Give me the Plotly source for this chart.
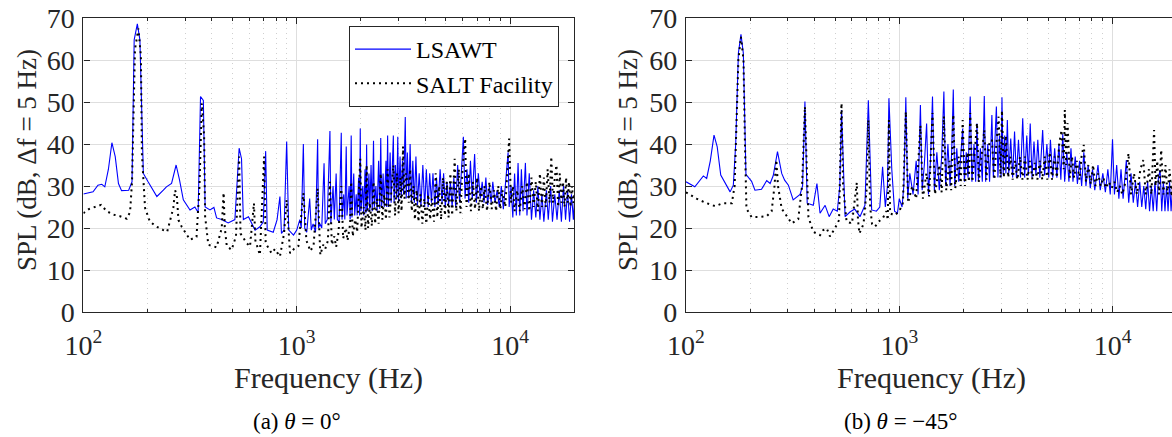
import plotly.graph_objects as go

# ---------------- data ----------------
# Panel (a) theta = 0 deg : LSAWT
a_lsawt_f = [100, 111, 117, 122, 126, 131, 136, 141, 146, 151, 163, 169, 173, 179, 184, 191, 201, 221, 237, 245,
             259, 272, 282, 294, 316, 333, 345, 354, 365, 372, 392, 409, 421, 445, 477, 513, 537, 551, 562, 594,
             638, 672, 697, 715, 727, 776, 809, 834, 848, 872, 897, 917, 966, 1000,
             1034, 1050, 1074, 1090, 1114, 1150, 1170, 1193, 1225, 1253, 1265, 1284, 1310, 1343, 1360, 1390, 1431,
             1445, 1480, 1500, 1530, 1550, 1580, 1617, 1630, 1660, 1680, 1706, 1720, 1760, 1780, 1800, 1815, 1850,
             1870, 1900, 1920, 1950, 1970, 1985, 2000, 2040, 2060, 2090, 2110, 2126, 2140, 2180, 2200, 2230, 2260,
             2290, 2310, 2350, 2380, 2420, 2450, 2476, 2500, 2540, 2570, 2620, 2640, 2667, 2690, 2740, 2770, 2800,
             2837, 2860, 2900, 2940, 2976, 3000, 3050, 3090, 3130, 3170, 3226, 3260, 3300, 3350, 3400, 3450, 3500,
             3560, 3620, 3680, 3750, 3820, 3900, 3980, 4050, 4130, 4200, 4280, 4350, 4440, 4520, 4600, 4700, 4800,
             4880, 4970, 5060, 5150, 5250, 5350, 5450, 5560, 5680, 5800, 5900, 6040, 6150, 6280, 6400, 6520, 6650,
             6820, 6950, 7100, 7250, 7400, 7550, 7700, 7850, 8000, 8150, 8300, 8500, 8700, 8900, 9100, 9300, 9500,
             9790, 9900, 10100, 10300, 10500, 10700, 10900, 11100, 11300, 11500, 11800, 12000, 12300, 12600, 12900,
             13200, 13500, 13800, 14100, 14400, 14800, 15100, 15500, 15800, 16200, 16600, 17000, 17400, 17800,
             18200, 18600, 19000, 19400, 19800, 20000]
a_lsawt_spl = [28.1, 28.6, 30.2, 30.4, 29.8, 34, 40.3, 37, 30.6, 28.9, 29, 31, 64.8, 68.6, 64.8, 33, 31, 27.5, 29, 29.8,
               30.6, 35, 31.5, 26.7, 24.3, 25, 23.7, 51.3, 50.4, 25, 24.3, 24.9, 22.4, 22, 21.2, 22, 39, 36.5, 22, 22.7,
               19.5, 20.3, 21.5, 38.3, 19.5, 19, 22, 27.5, 18.7, 19.5, 40.6, 19.5, 18.3, 19.5,
               22, 20, 40, 20, 19, 27, 19.5, 21, 19, 41.1, 20, 21, 20, 35.4, 21, 22, 43.1,
               21, 30, 22, 33, 22, 21.5, 42.7, 22, 28, 22, 39.4, 23, 30, 22, 42, 22.5, 33,
               23, 28, 23, 32, 23, 43.7, 24, 30, 23, 34, 23.5, 39.9, 24, 33, 24, 35, 24,
               40.8, 25, 30, 24, 36, 24.5, 41.4, 25, 33, 25, 36, 25, 42, 25, 38, 26, 33,
               42, 26, 35, 27, 41.7, 26, 37, 27, 36, 28, 46.4, 27, 38, 27, 40, 26, 36,
               26, 37, 25.5, 33, 25, 35, 25, 34, 25, 33, 26, 33, 25, 32, 25.5, 34, 26,
               33, 25, 31, 25.5, 31, 25, 32, 25, 35, 26, 33, 41.7, 27, 34, 26, 36, 27,
               37.6, 26, 33, 27, 31, 26, 32, 25.5, 30, 26, 31, 26, 29, 25, 30, 24.5, 31,
               38, 25, 30, 22.5, 33, 23, 35.5, 23, 34, 24, 35.5, 23, 33, 22, 29,
               22.5, 30, 22, 28, 21.5, 29, 22, 30, 21.5, 28, 22, 29, 21.5, 30,
               22, 29, 21.5, 28, 22, 26]

# Panel (a) theta = 0 deg : SALT Facility
a_salt_f = [100, 106, 121, 128.6, 138, 148.5, 159.6, 165.5, 169, 171.5, 174.5, 181, 186, 188, 194.5, 205, 220.7, 237,
            247, 264, 269, 274, 279, 289, 316, 339, 350, 359, 368, 372, 385, 421, 445, 454, 460, 470, 495, 519, 537,
            545, 583, 604, 630, 640, 672, 703, 715, 762, 790, 834, 872, 897, 930, 970, 1018,
            1074, 1110, 1160, 1200, 1253, 1290, 1330, 1360, 1400, 1431, 1460, 1500, 1530, 1570, 1617, 1650, 1700,
            1730, 1780, 1800, 1830, 1880, 1920, 1985, 2010, 2060, 2100, 2126, 2160, 2200, 2250, 2290, 2330, 2380,
            2420, 2476, 2520, 2570, 2620, 2667, 2720, 2780, 2837, 2890, 2950, 3000, 3060, 3100, 3150, 3200, 3250,
            3300, 3350, 3400, 3460, 3520, 3580, 3650, 3720, 3800, 3880, 3960, 4050, 4130, 4220, 4300, 4400, 4480,
            4560, 4650, 4750, 4850, 4950, 5050, 5150, 5250, 5350, 5500, 5600, 5750, 5850, 6000, 6160, 6250, 6400,
            6550, 6700, 6850, 7000, 7150, 7300, 7450, 7600, 7800, 8000, 8200, 8400, 8600, 8800, 9000, 9200, 9500,
            9700, 9900, 10100, 10300, 10500, 10800, 11100, 11400, 11700, 12000, 12300, 12600, 12900, 13200, 13500,
            13800, 14100, 14400, 14700, 15000, 15300, 15600, 15900, 16200, 16500, 16800, 17100, 17400, 17700,
            18000, 18300, 18600, 18900, 19200, 19500, 19800, 20000]
a_salt_spl = [23.5, 24.5, 25.5, 24, 23.2, 22.8, 22.2, 23.8, 31, 45.7, 62.5, 67.5, 61, 37.8, 24.8, 21.5, 20.3, 19.5,
              19.1, 24.8, 29, 27.8, 21.9, 20.3, 17.2, 17.9, 29.8, 49.7, 42, 22.8, 16, 15.4, 20, 28.4, 20, 15.7, 14.8, 18, 37,
              18.7, 16.4, 15.6, 25.9, 17, 13.6, 37, 16.4, 14, 15, 13.2, 18.7, 26.7, 14, 15, 15.7,
              28.3, 17, 14.5, 16, 29.4, 13.6, 16, 15, 17, 31, 16, 18, 15.5, 19, 30, 17.5, 20,
              17, 21, 31, 18, 22, 19, 36.5, 20, 25, 19.5, 35, 20, 26, 20.5, 31, 21, 27,
              21, 33, 22, 28, 22, 34, 22.5, 30, 35, 23, 33, 23.5, 32, 24, 39.4, 27, 33,
              31, 26, 34, 24, 30, 22, 29, 21.5, 28, 21, 27, 21, 28, 22, 27, 21.5, 33,
              22.5, 30, 22, 32, 23, 31, 22.5, 33, 23, 36.5, 24, 34, 23.5, 35, 41.3, 25, 33,
              24, 31, 24.5, 32, 24, 30, 24.5, 30, 24, 31, 24.5, 29, 24, 30, 24.5, 29, 25,
              33, 41.3, 26, 30, 24, 29, 24, 30, 24.5, 31, 24, 32, 25, 31, 24,
              33, 25, 32, 25, 34, 26, 37, 26, 32, 35, 25, 33, 26, 31,
              25, 32, 26, 31, 25, 30, 26, 28]

# Panel (b) theta = -45 deg : LSAWT
b_lsawt_f = [100, 110, 120.6, 125, 130, 135.3, 140, 145.5, 161, 166.7, 171, 176, 181, 185.7, 191, 203, 210.5, 226, 239,
             248, 256.5, 268.5, 281, 290, 302, 318, 342.6, 352, 361, 370, 395, 411, 425, 449, 469, 490, 512, 526, 536,
             557, 587, 618, 654, 690, 716, 742, 781, 810, 835, 860, 880, 894, 922, 950, 980, 1000,
             1030, 1050, 1073, 1095, 1120, 1160, 1200, 1225, 1256, 1280, 1310, 1343, 1370, 1400, 1431, 1460, 1500,
             1540, 1580, 1618, 1650, 1690, 1730, 1760, 1791, 1820, 1860, 1900, 1940, 1982, 2020, 2060, 2100, 2150,
             2190, 2240, 2280, 2313, 2350, 2400, 2450, 2503, 2540, 2600, 2650, 2717, 2760, 2852, 2900, 2950, 3000,
             3029, 3070, 3120, 3160, 3210, 3260, 3330, 3400, 3470, 3540, 3620, 3700, 3790, 3870, 3960, 4030, 4110,
             4190, 4280, 4370, 4460, 4560, 4700, 4800, 4920, 5020, 5110, 5240, 5350, 5480, 5600, 5720, 5840, 5960,
             6100, 6240, 6380, 6520, 6680, 6840, 7000, 7160, 7330, 7500, 7680, 7860, 8050, 8250, 8540, 8750, 9000,
             9250, 9500, 9750, 9990, 10200, 10450, 10700, 10950, 11200, 11600, 11900, 12200, 12500, 12800, 13100,
             13400, 13700, 14000, 14300, 14600, 14900, 15200, 15500, 15800, 16100, 16400, 16700, 17000, 17300,
             17600, 17900, 18200, 18500, 18800, 19100, 19400, 19700, 20000]
b_lsawt_spl = [31, 29.8, 32.4, 31.8, 36, 42.1, 39.4, 32.6, 28.6, 30.2, 40, 61.6, 66.1, 61.6, 32.8, 31.1, 29, 29.2, 31.3,
               30.6, 32.5, 38.2, 33, 31.4, 30.2, 26.7, 28, 30, 50.1, 25.9, 25.4, 30.6, 23.5, 25.4, 22.7, 24.5, 24, 30, 48.1,
               22.7, 23.8, 24.5, 22.7, 25.4, 50.4, 24.3, 24, 25, 34.6, 25, 30, 50.9, 34, 24, 23.5, 27,
               25, 30, 51.1, 27, 33, 28, 36, 28, 49.3, 29, 35, 44.9, 28, 36, 51.3, 29, 38,
               29, 37, 52.5, 30, 40, 30, 38, 53, 30, 39, 31, 37, 43.7, 31, 38, 32, 51.3,
               31, 40, 31, 44.9, 31, 39, 31, 51.4, 31, 40, 31, 46.9, 32, 48.9, 32, 42, 32,
               51.1, 33, 42, 33, 45.7, 33, 41.3, 32, 43, 32, 41, 32, 46.1, 32, 42, 32.5, 44.9,
               32, 40.6, 32.5, 41, 32, 43.3, 32.5, 40, 32, 41, 32, 39, 32, 40, 31.5, 42.4, 31,
               38, 31, 39, 31, 37, 30.5, 36, 30, 38, 30, 35, 29.5, 34, 29, 35, 29, 33,
               28.5, 34, 28, 41.1, 28, 35, 27, 34, 27, 36.2, 26, 33, 26, 31, 25,
               31, 25, 30, 24.5, 31, 24, 30, 24, 31, 24, 32, 33.8, 24, 31,
               24, 30, 24, 31, 24, 30, 24, 30, 26]

# Panel (b) theta = -45 deg : SALT Facility
b_salt_f = [100, 112, 125, 137, 149, 164, 169, 173, 176, 181, 186, 189, 192, 203, 218, 239, 252, 260, 265, 270, 281,
            313, 336, 350, 361, 368, 375, 395, 425, 440, 457, 473, 500, 522, 530, 536, 545, 566, 600, 625, 632, 640,
            650, 680, 705, 716, 730, 745, 769, 800, 840, 870, 883, 894, 905, 950, 1000,
            1040, 1073, 1100, 1150, 1200, 1256, 1290, 1340, 1380, 1431, 1470, 1540, 1580, 1618, 1660, 1720, 1750,
            1791, 1830, 1900, 1940, 1982, 2030, 2090, 2120, 2150, 2200, 2260, 2313, 2360, 2430, 2503, 2560, 2640,
            2717, 2790, 2850, 2923, 2980, 3029, 3090, 3160, 3240, 3320, 3400, 3490, 3580, 3680, 3780, 3880, 3990,
            4100, 4210, 4320, 4440, 4560, 4680, 4810, 4940, 5070, 5200, 5340, 5480, 5620, 5760, 5900, 5970, 6050,
            6150, 6300, 6450, 6600, 6800, 7000, 7150, 7330, 7500, 7700, 7900, 8100, 8300, 8550, 8800, 9050, 9300,
            9600, 9900, 10200, 10500, 10800, 11100, 11500, 11870, 12200, 12600, 13000, 13500, 13930, 14300, 14800,
            15200, 15650, 15900, 16200, 16500, 16900, 17300, 17700, 18100, 18500, 18900, 19300, 19700, 20000]
b_salt_spl = [28.5, 27, 25.9, 25.2, 25.9, 25.9, 30, 45, 60, 65.5, 60, 40, 24.6, 22.6, 22.6, 22.8, 24, 30, 36.2, 30, 24.6,
              21.1, 22.1, 30, 48.9, 35, 22.6, 19.1, 18.3, 19.5, 19.9, 18, 20, 21.9, 35, 49.7, 30, 21.5, 21.1, 28, 30.8, 22,
              18.7, 21, 30, 45.7, 25, 21, 20.3, 21.5, 22.5, 24, 21.9, 45.7, 23.5, 23, 24,
              26, 47.7, 26, 30, 27, 44.4, 27, 33, 27.5, 47.4, 28, 35, 28.5, 46.6, 29, 36, 29,
              47, 29.5, 37, 30, 45.7, 30, 38, 31, 47.4, 31, 38, 45, 31, 37, 43.3, 31.5, 40,
              41, 31.5, 40, 46.5, 32, 48, 32, 42, 32, 37, 31.5, 36, 31.5, 37, 31.5, 37, 31.5,
              36, 31.5, 35.5, 31.5, 36, 31.5, 37, 31.5, 38, 31.5, 37, 32, 40, 43.3, 34, 48.1, 35,
              45, 32, 37, 32, 36, 31.5, 37, 39.8, 31, 35, 30.5, 35, 30, 33, 30, 32, 29.5,
              31, 29.5, 31, 28.5, 30, 28, 31, 37.8, 28, 33, 28, 34, 36.2, 28, 34,
              28, 43.3, 30, 36, 28, 38.6, 28, 35, 28, 34, 27.5, 33, 28, 30]

x_major_ticks = [100, 1000, 10000]
x_major_text = ["10<sup>2</sup>", "10<sup>3</sup>", "10<sup>4</sup>"]
x_minor_ticks = [200, 300, 400, 500, 600, 700, 800, 900,
                 2000, 3000, 4000, 5000, 6000, 7000, 8000, 9000]
y_ticks = [0, 10, 20, 30, 40, 50, 60, 70]

# ---------------- figure ----------------
FONT = "Liberation Serif, 'Times New Roman', 'DejaVu Serif', serif"
AX = "#262626"
BLUE = "#0000ff"

fig = go.Figure()
fig.add_trace(go.Scatter(x=a_lsawt_f, y=a_lsawt_spl, mode="lines", name="LSAWT",
                         line=dict(color=BLUE, width=1.1), xaxis="x", yaxis="y"))
fig.add_trace(go.Scatter(x=a_salt_f, y=a_salt_spl, mode="lines", name="SALT Facility",
                         line=dict(color="black", width=2, dash="2px,4px"), xaxis="x", yaxis="y"))
fig.add_trace(go.Scatter(x=b_lsawt_f, y=b_lsawt_spl, mode="lines", showlegend=False,
                         line=dict(color=BLUE, width=1.1), xaxis="x2", yaxis="y2"))
fig.add_trace(go.Scatter(x=b_salt_f, y=b_salt_spl, mode="lines", showlegend=False,
                         line=dict(color="black", width=2, dash="2px,4px"), xaxis="x2", yaxis="y2"))

W, H = 1172, 437
ydom = [(H - 312) / H, (H - 18) / H]


def xaxis(domain, rng, anchor):
    return dict(type="log", domain=domain, range=rng, anchor=anchor,
                tickmode="array", tickvals=x_major_ticks, ticktext=x_major_text,
                ticks="inside", ticklen=6, tickcolor=AX, tickwidth=1,
                showline=True, linecolor=AX, linewidth=1.2, mirror="ticks",
                showgrid=True, gridcolor="#dedede", gridwidth=1,
                minor=dict(tickmode="array", tickvals=x_minor_ticks, ticks="inside", ticklen=3,
                           tickcolor=AX, showgrid=True, gridcolor="#cfcfcf", griddash="1px,4px", gridwidth=1),
                tickfont=dict(family=FONT, size=28, color=AX), ticklabelstandoff=8,
                zeroline=False, automargin=False)


def yaxis(anchor, mirror):
    return dict(domain=ydom, range=[0, 70], anchor=anchor,
                tickmode="array", tickvals=y_ticks,
                ticks="inside", ticklen=6, tickcolor=AX, tickwidth=1,
                showline=True, linecolor=AX, linewidth=1.2, mirror=mirror,
                showgrid=True, gridcolor="#dedede", gridwidth=1,
                tickfont=dict(family=FONT, size=28, color=AX), ticklabelstandoff=2,
                zeroline=False, automargin=False)


fig.update_layout(
    width=W, height=H,
    margin=dict(l=0, r=0, t=0, b=0),
    paper_bgcolor="white", plot_bgcolor="white",
    xaxis=xaxis([83.4 / W, 574.3 / W], [2, 4.30103], "y"),
    yaxis=yaxis("x", "ticks"),
    xaxis2=xaxis([686 / W, 1.0], [2, 2 + (1172 - 686) / 213.3], "y2"),
    yaxis2=yaxis("x2", False),
    legend=dict(x=349 / W, y=1 - 26 / H, xanchor="left", yanchor="top",
                bgcolor="white", bordercolor=AX, borderwidth=1,
                font=dict(family=FONT, size=24, color="black"),
                itemwidth=56, tracegroupgap=0),
    showlegend=True,
)

ann = []
for xc, yc_label, cap, capx in [((83.4 + 574.3) / 2, 27, "(a) <i>θ</i> = 0°", 297),
                                ((686 + 1177) / 2, 628, "(b) <i>θ</i> = −45°", 901)]:
    ann.append(dict(xref="paper", yref="paper", x=xc / W, y=1 - 378 / H, text="Frequency (Hz)",
                    showarrow=False, xanchor="center", yanchor="middle",
                    font=dict(family=FONT, size=30, color=AX)))
    ann.append(dict(xref="paper", yref="paper", x=yc_label / W, y=1 - 160 / H, text="SPL (dB, Δf = 5 Hz)",
                    textangle=-90, showarrow=False, xanchor="center", yanchor="middle",
                    font=dict(family=FONT, size=27, color=AX)))
    ann.append(dict(xref="paper", yref="paper", x=capx / W, y=1 - 421 / H, text=cap,
                    showarrow=False, xanchor="center", yanchor="middle",
                    font=dict(family=FONT, size=23, color="black")))
fig.update_layout(annotations=ann)

fig.write_html("out.html", config={"displayModeBar": False},
               post_script="document.body.style.margin='0';document.body.style.overflow='hidden';")
